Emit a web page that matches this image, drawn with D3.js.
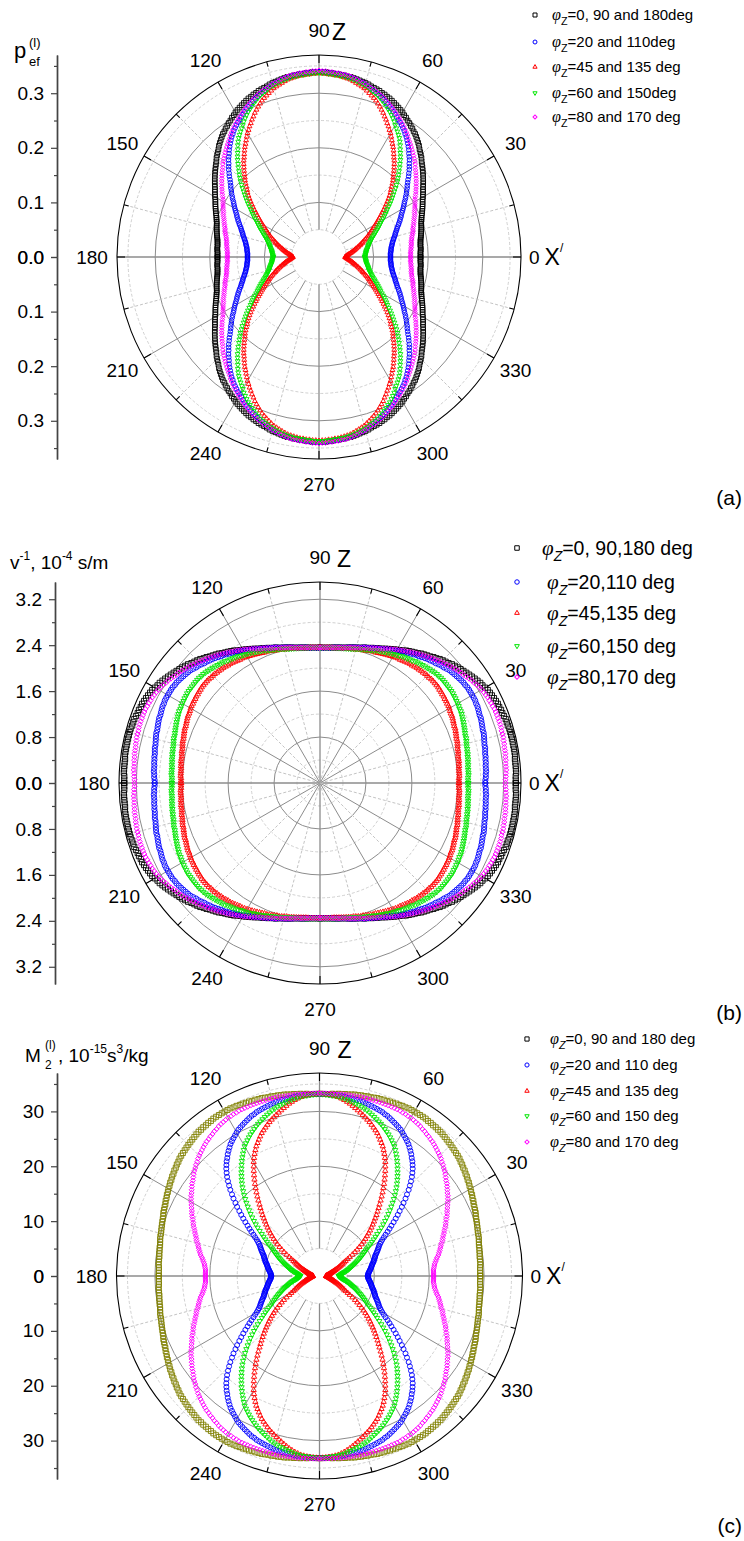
<!DOCTYPE html>
<html>
<head>
<meta charset="utf-8">
<script src="https://cdn.jsdelivr.net/npm/d3@7"></script>
<style>
  body { margin: 0; background: #fff; }
  svg { display: block; }
  text { font-family: "Liberation Sans", Arial, sans-serif; fill: #000; }
</style>
</head>
<body>
<svg id="fig" width="744" height="1541"></svg>
<script>
// Polar angles of the first quadrant (deg, 1 deg step); the curves are symmetric about both axes.
const quadrantAngles = d3.range(0, 91, 1);

// (a) effective polarization p_ef^(l)
const pefPhi0 = [
  .186,.186,.186,.186,.187,.187,.187,.187,.188,.188,
  .189,.190,.191,.192,.193,.194,.195,.196,.197,.198,
  .200,.201,.203,.205,.207,.209,.211,.213,.215,.217,
  .220,.222,.225,.227,.230,.233,.236,.239,.242,.245,
  .248,.251,.254,.257,.261,.264,.267,.270,.274,.277,
  .280,.283,.286,.288,.291,.293,.296,.298,.301,.303,
  .306,.308,.310,.312,.314,.316,.318,.319,.321,.322,
  .324,.325,.326,.327,.329,.330,.331,.332,.333,.334,
  .335,.335,.336,.336,.337,.337,.338,.338,.339,.339,
  .339];
const pefPhi20 = [
  .131,.131,.131,.131,.132,.132,.133,.133,.134,.135,
  .136,.137,.138,.140,.141,.143,.145,.146,.148,.150,
  .152,.154,.157,.159,.162,.164,.167,.169,.172,.175,
  .178,.181,.184,.187,.191,.194,.198,.201,.205,.208,
  .212,.216,.221,.225,.230,.234,.238,.243,.247,.251,
  .256,.260,.264,.268,.272,.275,.279,.282,.285,.288,
  .290,.293,.296,.299,.302,.304,.307,.310,.312,.315,
  .317,.319,.321,.323,.325,.327,.329,.330,.332,.333,
  .334,.335,.336,.336,.337,.337,.338,.338,.339,.339,
  .339];
const pefPhi45 = [
  .048,.049,.050,.051,.053,.054,.056,.058,.060,.062,
  .064,.066,.068,.070,.073,.075,.078,.080,.083,.085,
  .088,.091,.094,.097,.100,.103,.106,.109,.113,.116,
  .120,.124,.128,.132,.137,.141,.146,.151,.156,.161,
  .166,.171,.176,.180,.185,.190,.195,.199,.204,.209,
  .214,.219,.224,.228,.233,.238,.243,.247,.252,.257,
  .262,.266,.271,.275,.280,.284,.289,.293,.297,.301,
  .305,.308,.311,.314,.317,.320,.322,.324,.326,.328,
  .330,.331,.332,.333,.334,.334,.335,.335,.336,.336,
  .337];
const pefPhi60 = [
  .084,.084,.085,.085,.086,.086,.087,.087,.088,.089,
  .090,.091,.092,.093,.094,.095,.097,.098,.100,.102,
  .104,.106,.109,.111,.114,.117,.120,.123,.126,.129,
  .133,.137,.141,.145,.149,.153,.158,.163,.168,.173,
  .178,.183,.189,.194,.200,.205,.210,.215,.221,.226,
  .232,.237,.242,.247,.253,.258,.263,.267,.271,.275,
  .279,.284,.288,.292,.296,.299,.303,.306,.309,.312,
  .315,.317,.319,.321,.324,.325,.327,.328,.330,.331,
  .332,.333,.334,.334,.335,.335,.336,.336,.337,.337,
  .338];
const pefPhi80 = [
  .168,.168,.168,.168,.169,.169,.170,.170,.171,.171,
  .172,.173,.174,.175,.177,.178,.179,.180,.182,.183,
  .185,.186,.188,.190,.192,.193,.195,.197,.199,.201,
  .203,.205,.208,.211,.214,.217,.220,.223,.226,.229,
  .232,.235,.238,.241,.245,.248,.251,.254,.257,.260,
  .263,.266,.269,.272,.276,.279,.282,.285,.288,.291,
  .294,.296,.299,.302,.305,.307,.310,.312,.315,.317,
  .319,.321,.323,.324,.326,.328,.330,.331,.333,.334,
  .336,.337,.338,.338,.339,.339,.340,.340,.341,.341,
  .342];

// (b) inverse velocity v^-1, 10^-4 s/m
const slowPhi0 = [
  3.41,3.41,3.41,3.42,3.42,3.42,3.42,3.42,3.43,3.43,
  3.43,3.43,3.43,3.43,3.43,3.43,3.43,3.42,3.42,3.42,
  3.41,3.40,3.40,3.39,3.39,3.38,3.37,3.36,3.35,3.34,
  3.32,3.30,3.29,3.27,3.25,3.23,3.21,3.19,3.17,3.15,
  3.13,3.11,3.09,3.06,3.04,3.02,3.00,2.97,2.95,2.92,
  2.90,2.88,2.86,2.83,2.81,2.79,2.77,2.75,2.72,2.70,
  2.68,2.66,2.64,2.62,2.60,2.58,2.56,2.55,2.53,2.52,
  2.50,2.49,2.48,2.46,2.45,2.44,2.43,2.42,2.41,2.40,
  2.39,2.385,2.38,2.375,2.37,2.365,2.36,2.358,2.355,2.355,
  2.355];
const slowPhi20 = [
  2.88,2.88,2.89,2.89,2.90,2.90,2.90,2.91,2.91,2.92,
  2.92,2.93,2.94,2.94,2.95,2.96,2.97,2.98,2.98,2.99,
  3.00,3.01,3.02,3.02,3.03,3.04,3.05,3.05,3.06,3.06,
  3.06,3.06,3.06,3.06,3.05,3.05,3.04,3.03,3.02,3.01,
  3.00,2.99,2.97,2.95,2.94,2.92,2.90,2.89,2.87,2.86,
  2.84,2.82,2.80,2.79,2.77,2.75,2.73,2.71,2.70,2.68,
  2.66,2.64,2.62,2.61,2.59,2.57,2.56,2.54,2.53,2.51,
  2.50,2.49,2.48,2.46,2.45,2.44,2.43,2.42,2.41,2.40,
  2.39,2.385,2.38,2.375,2.37,2.365,2.36,2.358,2.355,2.355,
  2.355];
const slowPhi45 = [
  2.42,2.42,2.42,2.43,2.43,2.43,2.43,2.44,2.44,2.45,
  2.45,2.45,2.46,2.47,2.47,2.48,2.49,2.50,2.50,2.51,
  2.52,2.53,2.54,2.54,2.55,2.56,2.57,2.58,2.58,2.59,
  2.60,2.61,2.61,2.62,2.62,2.63,2.63,2.64,2.64,2.65,
  2.65,2.65,2.65,2.65,2.64,2.64,2.64,2.63,2.63,2.62,
  2.62,2.61,2.60,2.60,2.59,2.58,2.57,2.56,2.56,2.55,
  2.54,2.53,2.52,2.51,2.50,2.49,2.48,2.47,2.47,2.46,
  2.45,2.44,2.43,2.43,2.42,2.41,2.40,2.40,2.39,2.385,
  2.38,2.375,2.37,2.365,2.36,2.36,2.36,2.358,2.355,2.355,
  2.355];
const slowPhi60 = [
  2.58,2.58,2.58,2.59,2.59,2.59,2.59,2.60,2.60,2.61,
  2.61,2.62,2.62,2.63,2.63,2.64,2.65,2.66,2.66,2.67,
  2.68,2.69,2.70,2.71,2.72,2.73,2.74,2.75,2.75,2.76,
  2.77,2.77,2.78,2.78,2.79,2.79,2.79,2.79,2.79,2.79,
  2.79,2.79,2.78,2.78,2.77,2.76,2.75,2.74,2.73,2.72,
  2.71,2.70,2.69,2.67,2.66,2.65,2.64,2.63,2.61,2.60,
  2.59,2.58,2.57,2.55,2.54,2.53,2.52,2.51,2.49,2.48,
  2.47,2.46,2.45,2.44,2.43,2.42,2.41,2.40,2.395,2.39,
  2.385,2.38,2.375,2.37,2.37,2.365,2.36,2.358,2.355,2.355,
  2.355];
const slowPhi80 = [
  3.23,3.23,3.24,3.24,3.25,3.25,3.25,3.26,3.26,3.27,
  3.27,3.27,3.28,3.28,3.29,3.29,3.29,3.30,3.30,3.30,
  3.30,3.30,3.30,3.30,3.29,3.29,3.28,3.28,3.27,3.26,
  3.25,3.24,3.22,3.20,3.19,3.17,3.15,3.13,3.12,3.10,
  3.08,3.06,3.04,3.02,3.00,2.98,2.96,2.94,2.92,2.90,
  2.88,2.86,2.84,2.82,2.80,2.78,2.76,2.74,2.72,2.70,
  2.68,2.66,2.64,2.62,2.60,2.58,2.56,2.55,2.53,2.52,
  2.50,2.49,2.48,2.46,2.45,2.44,2.43,2.42,2.41,2.40,
  2.39,2.385,2.38,2.375,2.37,2.365,2.36,2.358,2.355,2.355,
  2.355];

// (c) M_2^(l), 10^-15 s^3/kg
const m2Phi0 = [
  29.3,29.3,29.3,29.3,29.4,29.4,29.4,29.4,29.5,29.5,
  29.6,29.6,29.7,29.8,29.9,29.9,30.0,30.1,30.2,30.3,
  30.4,30.5,30.7,30.8,30.9,31.0,31.2,31.3,31.5,31.6,
  31.8,31.9,32.1,32.2,32.4,32.5,32.7,32.8,33.0,33.1,
  33.3,33.4,33.5,33.6,33.7,33.8,33.9,34.0,34.1,34.2,
  34.3,34.3,34.4,34.4,34.5,34.5,34.6,34.6,34.6,34.6,
  34.6,34.6,34.6,34.5,34.5,34.4,34.4,34.3,34.3,34.2,
  34.2,34.1,34.1,34.0,33.9,33.9,33.8,33.8,33.7,33.7,
  33.6,33.5,33.5,33.4,33.4,33.3,33.3,33.2,33.2,33.2,
  33.2];
const m2Phi20 = [
  8.8,8.8,8.9,8.9,9.0,9.1,9.2,9.3,9.4,9.5,
  9.6,9.7,9.8,9.9,10.1,10.2,10.3,10.4,10.6,10.7,
  10.8,11.0,11.2,11.4,11.6,11.8,12.0,12.2,12.5,12.8,
  13.2,13.7,14.2,14.8,15.4,16.0,16.7,17.4,18.1,18.8,
  19.6,20.3,21.1,21.8,22.6,23.3,24.0,24.7,25.3,25.9,
  26.4,26.9,27.3,27.8,28.2,28.6,29.0,29.3,29.6,29.9,
  30.2,30.5,30.7,30.9,31.1,31.3,31.5,31.7,31.8,32.0,
  32.1,32.2,32.3,32.4,32.5,32.6,32.7,32.7,32.8,32.8,
  32.9,32.9,33.0,33.0,33.1,33.1,33.1,33.1,33.2,33.2,
  33.2];
const m2Phi45 = [
  1.2,1.25,1.3,1.35,1.4,1.45,1.5,1.55,1.6,1.7,
  1.8,1.85,1.9,2.0,2.1,2.2,2.3,2.45,2.6,2.75,
  2.9,3.1,3.3,3.55,3.8,4.05,4.3,4.55,4.8,5.15,
  5.5,6.0,6.5,7.15,7.8,8.4,9.0,9.6,10.2,10.75,
  11.3,11.85,12.4,12.95,13.5,14.05,14.6,15.2,15.8,16.4,
  17.0,17.7,18.4,19.1,19.8,20.5,21.2,21.9,22.6,23.3,
  24.0,24.6,25.2,25.75,26.3,26.75,27.2,27.65,28.1,28.45,
  28.8,29.15,29.5,29.8,30.1,30.4,30.7,31.0,31.3,31.6,
  31.9,32.15,32.4,32.6,32.8,32.9,33.0,33.05,33.1,33.15,
  33.2];
const m2Phi60 = [
  3.5,3.6,3.7,3.8,3.9,4.0,4.1,4.25,4.4,4.6,
  4.8,5.0,5.2,5.4,5.6,5.8,6.0,6.25,6.5,6.75,
  7.0,7.25,7.5,7.8,8.1,8.4,8.7,9.0,9.3,9.65,
  10.0,10.45,10.9,11.4,11.9,12.45,13.0,13.65,14.3,14.95,
  15.6,16.25,16.9,17.55,18.2,18.85,19.5,20.15,20.8,21.4,
  22.0,22.55,23.1,23.65,24.2,24.75,25.3,25.8,26.3,26.8,
  27.3,27.65,28.0,28.35,28.7,29.0,29.3,29.6,29.9,30.15,
  30.4,30.65,30.9,31.15,31.4,31.6,31.8,31.95,32.1,32.25,
  32.4,32.55,32.7,32.8,32.9,32.95,33.0,33.05,33.1,33.15,
  33.2];
const m2Phi80 = [
  20.8,20.8,20.8,20.8,20.9,21.0,21.1,21.3,21.5,21.7,
  22.0,22.2,22.4,22.6,22.8,23.0,23.3,23.5,23.7,24.0,
  24.2,24.5,24.8,25.0,25.3,25.6,25.9,26.1,26.4,26.7,
  27.0,27.3,27.6,27.8,28.1,28.4,28.7,28.9,29.2,29.5,
  29.8,30.0,30.3,30.5,30.8,31.0,31.2,31.4,31.6,31.8,
  32.0,32.1,32.3,32.4,32.6,32.7,32.9,33.0,33.1,33.2,
  33.3,33.3,33.4,33.4,33.5,33.5,33.5,33.5,33.5,33.5,
  33.5,33.5,33.5,33.5,33.5,33.5,33.5,33.5,33.4,33.4,
  33.4,33.4,33.4,33.4,33.3,33.3,33.3,33.3,33.3,33.3,
  33.3];

// Angular tick labels and legend texts
const angleTicks = d3.range(0, 360, 30);
const legendA = ["=0, 90 and 180deg", "=20 and 110deg", "=45 and 135 deg", "=60 and 150deg", "=80 and 170 deg"];
const legendB = ["=0, 90,180 deg", "=20,110 deg", "=45,135 deg", "=60,150 deg", "=80,170 deg"];
const legendC = ["=0, 90 and 180 deg", "=20 and 110 deg", "=45 and 135 deg", "=60 and 150 deg", "=80 and 170 deg"];

const svg = d3.select("#fig");
const rad = d => d * Math.PI / 180;

// Marker shapes: square, circle, triangle up, triangle down, diamond
const shapes = ["square", "circle", "up", "down", "diamond"];
function markerPath(kind, s) {
  if (kind === "square") return d3.symbol(d3.symbolSquare, s * s)();
  if (kind === "circle") return d3.symbol(d3.symbolCircle, Math.PI * s * s / 4)();
  if (kind === "up" || kind === "down") return d3.symbol(d3.symbolTriangle, 0.433 * s * s * 1.1)();
  return d3.symbol(d3.symbolSquare, s * s / 2)();
}
function markerRotate(kind) {
  return kind === "down" ? 180 : kind === "diamond" ? 45 : 0;
}

// Reflect a first-quadrant curve into all four quadrants
function fullCurve(values) {
  const out = [];
  values.forEach((v, i) => {
    const a = quadrantAngles[i];
    out.push({a, v}, {a: 180 - a, v}, {a: 180 + a, v}, {a: 360 - a, v});
  });
  return out;
}

function drawPanel(cfg) {
  const g = svg.append("g");
  const r = d3.scaleLinear().domain([0, cfg.rMax]).range([0, cfg.R]);
  const px = (deg, d) => cfg.cx + d * Math.cos(rad(deg));
  const py = (deg, d) => cfg.cy - d * Math.sin(rad(deg));

  // grid circles
  g.append("g").selectAll("circle").data(cfg.minor).join("circle")
    .attr("cx", cfg.cx).attr("cy", cfg.cy).attr("r", d => r(d))
    .attr("fill", "none").attr("stroke", "#c4c4c4").attr("stroke-width", 0.8)
    .attr("stroke-dasharray", "3,2");
  g.append("g").selectAll("circle").data(cfg.major.filter(d => d > 0)).join("circle")
    .attr("cx", cfg.cx).attr("cy", cfg.cy).attr("r", d => r(d))
    .attr("fill", "none").attr("stroke", "#8c8c8c").attr("stroke-width", 1);

  // spokes
  const hole = r(cfg.hole);
  g.append("g").selectAll("line").data(d3.range(0, 360, 15)).join("line")
    .attr("x1", d => px(d, hole)).attr("y1", d => py(d, hole))
    .attr("x2", d => px(d, cfg.R)).attr("y2", d => py(d, cfg.R))
    .attr("stroke", d => d % 30 === 0 ? "#8c8c8c" : "#c4c4c4")
    .attr("stroke-width", d => d % 90 === 0 ? 1.3 : 1)
    .attr("stroke-dasharray", d => d % 30 === 0 ? null : "3,2");

  // outer ring with inward ticks
  g.append("circle").attr("cx", cfg.cx).attr("cy", cfg.cy).attr("r", cfg.R)
    .attr("fill", "none").attr("stroke", "#000").attr("stroke-width", 1.1);
  g.append("g").selectAll("line").data(d3.range(0, 360, 15)).join("line")
    .attr("x1", d => px(d, cfg.R)).attr("y1", d => py(d, cfg.R))
    .attr("x2", d => px(d, cfg.R - (d % 30 === 0 ? 8 : 5)))
    .attr("y2", d => py(d, cfg.R - (d % 30 === 0 ? 8 : 5)))
    .attr("stroke", "#000").attr("stroke-width", 1.1);

  // data markers
  cfg.series.forEach((s, k) => {
    const kind = shapes[k];
    const path = markerPath(kind, cfg.marker);
    const rot = markerRotate(kind);
    g.append("g").selectAll("path").data(fullCurve(s.values)).join("path")
      .attr("d", path)
      .attr("transform", d => `translate(${px(d.a, r(d.v))},${py(d.a, r(d.v))}) rotate(${rot})`)
      .attr("fill", "none").attr("stroke", s.color).attr("stroke-width", 0.9);
  });

  // angular labels
  const lr = cfg.R + 25;
  angleTicks.forEach(a => {
    if (a === 0) {
      const t = g.append("text").attr("x", cfg.cx + cfg.R + 8).attr("y", cfg.cy)
        .attr("dominant-baseline", "central").attr("font-size", 19);
      t.append("tspan").text("0");
      t.append("tspan").attr("dx", cfg.xGap).attr("font-size", 23).text("X");
      t.append("tspan").attr("font-size", 12).attr("dy", -9).text("/");
    } else if (a === 90) {
      g.append("text").attr("x", cfg.cx).attr("y", py(90, lr))
        .attr("text-anchor", "middle").attr("dominant-baseline", "central")
        .attr("font-size", 19).text("90");
      g.append("text").attr("x", cfg.cx + cfg.zGap).attr("y", py(90, lr) + 2)
        .attr("dominant-baseline", "central").attr("font-size", 23).text("Z");
    } else {
      g.append("text").attr("x", px(a, lr)).attr("y", py(a, lr))
        .attr("text-anchor", "middle").attr("dominant-baseline", "central")
        .attr("font-size", 19).text(a);
    }
  });

  // left radial axis, drawn as an upper and a lower half both starting at zero
  const fmt = d3.format(cfg.fmt);
  [[cfg.cy, cfg.cy - cfg.R], [cfg.cy, cfg.cy + cfg.R]].forEach(range => {
    const s = d3.scaleLinear().domain([0, cfg.rMax]).range(range);
    const ax = g.append("g").attr("transform", `translate(${cfg.axisX},0)`);
    ax.call(d3.axisLeft(s).tickValues(cfg.major).tickFormat(fmt)
      .tickSize(6).tickSizeOuter(0).tickPadding(7));
    ax.append("g").call(d3.axisLeft(s).tickValues(cfg.minor).tickFormat("")
      .tickSize(3).tickSizeOuter(0));
    ax.selectAll("path.domain").attr("stroke", "#444").attr("stroke-width", 1.4);
    ax.selectAll(".tick line").attr("stroke", "#444").attr("stroke-width", 1.2);
    ax.selectAll(".tick text").attr("font-size", 19)
      .attr("font-family", '"Liberation Sans", Arial, sans-serif').attr("fill", "#000");
  });

  // legend
  const L = cfg.legend;
  cfg.series.forEach((s, k) => {
    const kind = shapes[k];
    const y = L.ys[k];
    g.append("path").attr("d", markerPath(kind, L.marker))
      .attr("transform", `translate(${L.mx},${y}) rotate(${markerRotate(kind)})`)
      .attr("fill", "none").attr("stroke", s.legendColor || s.color).attr("stroke-width", 1);
    const t = g.append("text").attr("x", k === 0 ? L.tx0 : L.tx).attr("y", y + L.size * 0.36)
      .attr("font-size", L.size);
    t.append("tspan").attr("font-family", '"Liberation Serif", "Times New Roman", serif')
      .attr("font-style", "italic").attr("font-size", L.size * 1.08).text("φ");
    t.append("tspan").attr("font-size", L.size * 0.72).attr("dy", L.size * 0.3)
      .attr("font-style", L.zItalic ? "italic" : "normal").text("Z");
    t.append("tspan").attr("dy", -L.size * 0.3).text(L.labels[k]);
  });

  // panel tag
  g.append("text").attr("x", 742).attr("y", cfg.tagY).attr("text-anchor", "end")
    .attr("font-family", '"Liberation Serif", "Times New Roman", serif')
    .attr("font-size", 21).text(cfg.tag);
  return g;
}

const palette = {black: "#000000", blue: "#0000ff", red: "#ff0000", green: "#00e600", pink: "#ff00ff", olive: "#808000"};

// Panel (a)
const ga = drawPanel({
  cx: 319, cy: 257, R: 202, rMax: 0.37, hole: 0.05, axisX: 57,
  major: [0, 0.1, 0.2, 0.3], minor: [0.05, 0.15, 0.25, 0.35], fmt: ".1f",
  marker: 4.6, xGap: 5, zGap: 13, tag: "(a)", tagY: 505,
  series: [
    {values: pefPhi0, color: palette.black},
    {values: pefPhi20, color: palette.blue},
    {values: pefPhi45, color: palette.red},
    {values: pefPhi60, color: palette.green},
    {values: pefPhi80, color: palette.pink}],
  legend: {mx: 535, tx0: 552, tx: 552, ys: [15, 42, 67, 93, 117], size: 15, marker: 4, labels: legendA, zItalic: false}
});
{
  ga.append("text").attr("x", 14).attr("y", 58).attr("font-size", 22).text("p");
  ga.append("text").attr("x", 29).attr("y", 66).attr("font-size", 13).text("ef");
  ga.append("text").attr("x", 29).attr("y", 47).attr("font-size", 13).text("(l)");
}

// Panel (b)
const gb = drawPanel({
  cx: 320, cy: 783, R: 201, rMax: 3.5, hole: 0, axisX: 55,
  major: [0, 0.8, 1.6, 2.4, 3.2], minor: [0.4, 1.2, 2.0, 2.8], fmt: ".1f",
  marker: 5.2, xGap: 5, zGap: 17, tag: "(b)", tagY: 1020,
  series: [
    {values: slowPhi0, color: palette.black},
    {values: slowPhi20, color: palette.blue},
    {values: slowPhi45, color: palette.red},
    {values: slowPhi60, color: palette.green},
    {values: slowPhi80, color: palette.pink}],
  legend: {mx: 517, tx0: 542, tx: 547, ys: [548, 582, 613, 646, 677], size: 19.5, marker: 4.5, labels: legendB, zItalic: true}
});
{
  const t = gb.append("text").attr("x", 10).attr("y", 569).attr("font-size", 19);
  t.append("tspan").text("v");
  t.append("tspan").attr("font-size", 12).attr("dy", -9).text("-1");
  t.append("tspan").attr("dy", 9).text(", 10");
  t.append("tspan").attr("font-size", 12).attr("dy", -9).text("-4");
  t.append("tspan").attr("dy", 9).text(" s/m");
}

// Panel (c)
const gc = drawPanel({
  cx: 319.5, cy: 1276, R: 203, rMax: 37, hole: 5, axisX: 57,
  major: [0, 10, 20, 30], minor: [5, 15, 25, 35], fmt: "d",
  marker: 5, xGap: 5, zGap: 18, tag: "(c)", tagY: 1533,
  series: [
    {values: m2Phi0, color: palette.olive, legendColor: palette.black},
    {values: m2Phi20, color: palette.blue},
    {values: m2Phi45, color: palette.red},
    {values: m2Phi60, color: palette.green},
    {values: m2Phi80, color: palette.pink}],
  legend: {mx: 527, tx0: 550, tx: 550, ys: [1039, 1065, 1091, 1116, 1142], size: 15, marker: 4.2, labels: legendC, zItalic: true}
});
{
  gc.append("text").attr("x", 25).attr("y", 1062).attr("font-size", 19).text("M");
  gc.append("text").attr("x", 45).attr("y", 1069).attr("font-size", 12).text("2");
  gc.append("text").attr("x", 45).attr("y", 1049).attr("font-size", 12).text("(l)");
  const t = gc.append("text").attr("x", 58).attr("y", 1062).attr("font-size", 19);
  t.append("tspan").text(", 10");
  t.append("tspan").attr("font-size", 12).attr("dy", -9).text("-15");
  t.append("tspan").attr("dy", 9).text("s");
  t.append("tspan").attr("font-size", 12).attr("dy", -9).text("3");
  t.append("tspan").attr("dy", 9).text("/kg");
}
</script>
</body>
</html>
